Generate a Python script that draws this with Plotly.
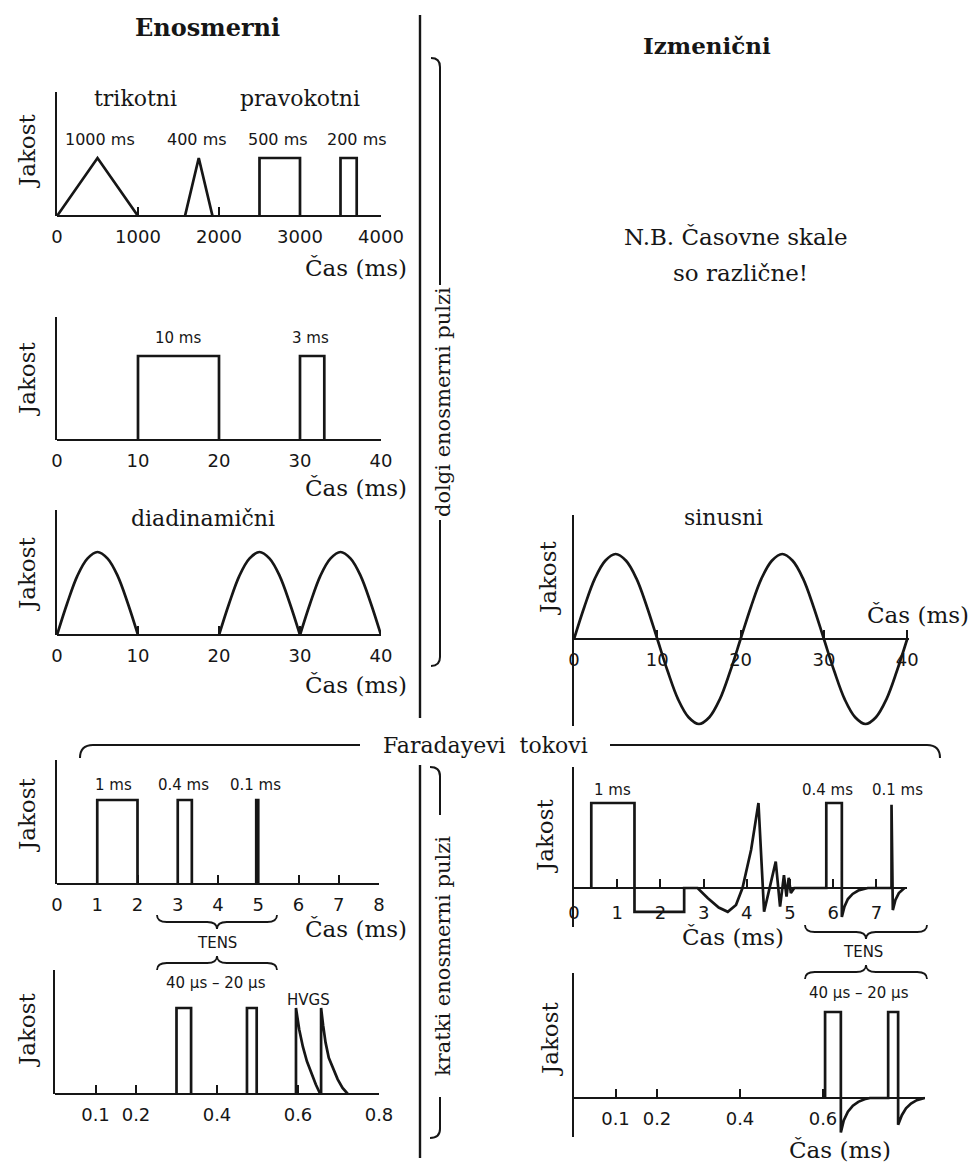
import plotly.graph_objects as go

W, H = 975, 1165
INK = "#161616"
SERIF = "DejaVu Serif, Liberation Serif, serif"
SANS = "DejaVu Sans, Liberation Sans, sans-serif"

# ---------------- data ----------------
# Panel 1: trikotni / pravokotni (time in ms)
P1_X = [0, 500, 1000, None, 1580, 1750, 1920, None, 2500, 2500, 3000, 3000, None, 3500, 3500, 3700, 3700]
P1_Y = [0, 1, 0, None, 0, 1, 0, None, 0, 1, 1, 0, None, 0, 1, 1, 0]
P1_TICKS = [0, 1000, 2000, 3000, 4000]

# Panel 2: 10 ms and 3 ms rectangular pulses
P2_X = [10, 10, 20, 20, None, 30, 30, 33, 33]
P2_Y = [0, 1, 1, 0, None, 0, 1, 1, 0]
P2_TICKS = [0, 10, 20, 30, 40]

# Panel 3: diadinamični (half-waves)
P3_X = [0, 1.25, 2.5, 3.75, 5, 6.25, 7.5, 8.75, 10, None,
        20, 21.25, 22.5, 23.75, 25, 26.25, 27.5, 28.75, 30, None,
        30, 31.25, 32.5, 33.75, 35, 36.25, 37.5, 38.75, 40]
P3_Y = [0, .38, .71, .92, 1, .92, .71, .38, 0, None,
        0, .38, .71, .92, 1, .92, .71, .38, 0, None,
        0, .38, .71, .92, 1, .92, .71, .38, 0]
P3_TICKS = [0, 10, 20, 30, 40]

# Panel 4: sinusni
P4_X = [0, 1.25, 2.5, 3.75, 5, 6.25, 7.5, 8.75, 10, 11.25, 12.5, 13.75, 15, 16.25, 17.5, 18.75,
        20, 21.25, 22.5, 23.75, 25, 26.25, 27.5, 28.75, 30, 31.25, 32.5, 33.75, 35, 36.25, 37.5, 38.75, 40]
P4_Y = [0, .38, .71, .92, 1, .92, .71, .38, 0, -.38, -.71, -.92, -1, -.92, -.71, -.38,
        0, .38, .71, .92, 1, .92, .71, .38, 0, -.38, -.71, -.92, -1, -.92, -.71, -.38, 0]
P4_TICKS = [0, 10, 20, 30, 40]

# Panel 5: short DC pulses (ms)
P5_X = [1, 1, 2, 2, None, 3, 3, 3.35, 3.35, None, 4.95, 4.95, 5.0, 5.0]
P5_Y = [0, 1, 1, 0, None, 0, 1, 1, 0, None, 0, 1, 1, 0]
P5_TICKS = [0, 1, 2, 3, 4, 5, 6, 7, 8]

# Panel 6: biphasic / alternating short pulses (ms)
P6_X = [0.4, 0.4, 1.4, 1.4, 2.55, 2.55, 2.86, 3.1, 3.35, 3.56, 3.75, 3.9, 4.1, 4.27, 4.4, 4.67, 4.77,
        4.86, 4.92, 4.97, 5.02, 5.1, 5.84, 5.84, 6.2, 6.2, 6.26, 6.34, 6.45, 6.58, 6.8,
        7.35, 7.35, 7.38, 7.44, 7.52, 7.65]
P6_Y = [0, 1, 1, -0.28, -0.28, 0, 0, -0.12, -0.23, -0.28, -0.2, 0, 0.45, 1.0, -0.28, 0.31, -0.22,
        0.15, -0.1, 0.12, -0.06, 0, 0, 1, 1, -0.34, -0.22, -0.13, -0.07, -0.03, 0,
        0, 0.98, -0.26, -0.14, -0.06, 0]
P6_TICKS = [0, 1, 2, 3, 4, 5, 6, 7]

# Panel 7: biphasic TENS (ms)
P7_X = [0.605, 0.605, 0.643, 0.643, 0.650, 0.660, 0.672, 0.685, 0.700, 0.713,
        0.757, 0.757, 0.781, 0.781, 0.790, 0.800, 0.812, 0.826, 0.845]
P7_Y = [0, 1, 1, -0.4, -0.26, -0.16, -0.09, -0.045, -0.015, 0,
        0, 1, 1, -0.31, -0.2, -0.12, -0.065, -0.025, 0]
P7_TICKS = [0.1, 0.2, 0.4, 0.6]

# Panel 8: TENS + HVGS (ms)
P8_X = [0.30, 0.30, 0.336, 0.336, None, 0.474, 0.474, 0.498, 0.498, None,
        0.595, 0.595, 0.603, 0.612, 0.622, 0.633, 0.644, 0.655, None,
        0.657, 0.657, 0.662, 0.668, 0.676, 0.686, 0.698, 0.710, 0.723]
P8_Y = [0, 1, 1, 0, None, 0, 1, 1, 0, None,
        0, 1, 0.75, 0.55, 0.38, 0.24, 0.11, 0, None,
        0, 1, 0.8, 0.6, 0.42, 0.3, 0.17, 0.07, 0]
P8_TICKS = [0.1, 0.2, 0.4, 0.6, 0.8]


def fmt(v):
    return ("%g" % v)


fig = go.Figure()


def add_panel(i, xs, ys, ticks, left, right, x0, xu, top, bot, y0, yu,
              shape="linear", standoff=4):
    sx = "x" if i == 1 else "x%d" % i
    sy = "y" if i == 1 else "y%d" % i
    fig.add_trace(go.Scatter(x=xs, y=ys, mode="lines", xaxis=sx, yaxis=sy,
                             line=dict(color=INK, width=2.7, shape=shape),
                             hoverinfo="skip", showlegend=False))
    xa = "xaxis" if i == 1 else "xaxis%d" % i
    ya = "yaxis" if i == 1 else "yaxis%d" % i
    fig.layout[xa] = dict(domain=[left / W, right / W],
                          range=[(left - x0) / xu, (right - x0) / xu],
                          anchor="free", position=1 - y0 / H,
                          showline=True, linecolor=INK, linewidth=2.3,
                          ticks="inside", ticklen=8, tickwidth=2, tickcolor=INK,
                          tickvals=ticks, ticktext=[fmt(t) for t in ticks],
                          tickfont=dict(family=SANS, size=18, color=INK),
                          ticklabelstandoff=standoff,
                          showgrid=False, zeroline=False, fixedrange=True,
                          automargin=False)
    fig.layout[ya] = dict(domain=[1 - bot / H, 1 - top / H],
                          range=[(y0 - bot) / yu, (y0 - top) / yu],
                          anchor=sx, showline=True, linecolor=INK, linewidth=2.3,
                          showticklabels=False, ticks="", showgrid=False,
                          zeroline=False, fixedrange=True, automargin=False)


# left column
add_panel(1, P1_X, P1_Y, P1_TICKS, 57, 381, 57, 0.081, 92, 216, 216, 58)
add_panel(2, P2_X, P2_Y, P2_TICKS, 57, 381, 57, 8.1, 317, 440, 440, 84)
add_panel(3, P3_X, P3_Y, P3_TICKS, 57, 381, 57, 8.1, 510, 635, 635, 83, shape="spline")
add_panel(5, P5_X, P5_Y, P5_TICKS, 57, 379, 57, 40.25, 760, 884, 884, 84)
add_panel(8, P8_X, P8_Y, P8_TICKS, 55, 379, 55, 405, 970, 1094, 1094, 86)
# right column
add_panel(4, P4_X, P4_Y, P4_TICKS, 574, 909, 574, 8.33, 515, 726, 639, 85, shape="spline")
add_panel(6, P6_X, P6_Y, P6_TICKS, 574, 907, 574, 43.2, 767, 927, 888, 85, standoff=8)
add_panel(7, P7_X, P7_Y, P7_TICKS, 574, 925, 574, 415, 973, 1137, 1098, 86)


def X(px):
    return px / W


def Y(py):
    return 1 - py / H


ann = []


def txt(s, x, y, size=22, family=SERIF, angle=0, xanchor="center", bold=False):
    if bold:
        s = "<b>%s</b>" % s
    ann.append(dict(text=s, x=X(x), y=Y(y), xref="paper", yref="paper",
                    xanchor=xanchor, yanchor="middle", showarrow=False,
                    textangle=angle, font=dict(family=family, size=size, color=INK)))


# titles
txt("Enosmerni", 207, 28, 24, bold=True)
txt("Izmenični", 707, 45, 23, bold=True)
txt("N.B. Časovne skale", 736, 237, 23)
txt("so različne!", 740, 273, 23)

# waveform names
txt("trikotni", 135, 98, 22)
txt("pravokotni", 300, 98, 22)
txt("diadinamični", 203, 518, 22)
txt("sinusni", 723, 517, 22)

# axis names
for yy in (151, 379, 574, 815, 1030):
    txt("Jakost", 27, yy, 23, angle=-90)
for xx, yy in ((548, 578), (545, 836), (550, 1039)):
    txt("Jakost", xx, yy, 23, angle=-90)
for yy in (268, 488, 685, 929):
    txt("Čas (ms)", 409, yy, 23, xanchor="right")
txt("Čas (ms)", 971, 615, 23, xanchor="right")
txt("Čas (ms)", 733, 937, 23)
txt("Čas (ms)", 840, 1150, 23)

# pulse labels
for s, xx in (("1000 ms", 100), ("400 ms", 197), ("500 ms", 278), ("200 ms", 357)):
    txt(s, xx, 139, 16, SANS)
txt("10 ms", 178, 338, 15, SANS)
txt("3 ms", 310, 338, 15, SANS)
for s, xx in (("1 ms", 113), ("0.4 ms", 183), ("0.1 ms", 255)):
    txt(s, xx, 785, 15, SANS)
for s, xx in (("1 ms", 612), ("0.4 ms", 827), ("0.1 ms", 897)):
    txt(s, xx, 790, 15, SANS)
txt("40 µs – 20 µs", 216, 983, 15, SANS)
txt("40 µs – 20 µs", 859, 993, 15, SANS)
txt("HVGS", 308, 1000, 15, SANS)
txt("TENS", 217, 943, 15, SANS)
txt("TENS", 863, 952, 15, SANS)

# group labels
txt("Faradayevi  tokovi", 485, 745, 22)
txt("dolgi enosmerni pulzi", 443, 402, 21, angle=-90)
txt("kratki enosmerni pulzi", 443, 956, 21, angle=-90)

fig.update_layout(annotations=ann)

# decorative lines / brackets
shapes = []


def line(x1, y1, x2, y2, w=2.2):
    shapes.append(dict(type="line", xref="paper", yref="paper",
                       x0=X(x1), y0=Y(y1), x1=X(x2), y1=Y(y2),
                       line=dict(color=INK, width=w)))


def path(points, w=2.0):
    d = ""
    for cmd, pts in points:
        d += cmd + " " + " ".join("%.5f,%.5f" % (X(a), Y(b)) for a, b in pts) + " "
    shapes.append(dict(type="path", xref="paper", yref="paper", path=d.strip(),
                       line=dict(color=INK, width=w)))


def hbrace(x1, x2, y, h):
    # h>0: tip points down (ends curl up); h<0: tip points up
    xm = (x1 + x2) / 2
    r = abs(h) * 1.4
    path([("M", [(x1, y - h)]), ("Q", [(x1, y), (x1 + r, y)]), ("L", [(xm - r, y)]),
          ("Q", [(xm, y), (xm, y + h)]), ("Q", [(xm, y), (xm + r, y)]),
          ("L", [(x2 - r, y)]), ("Q", [(x2, y), (x2, y - h)])], w=1.8)


# vertical divider
line(420, 15, 420, 718, 2.4)
line(420, 765, 420, 1158, 2.4)

# Faraday bracket
path([("M", [(80, 758)]), ("Q", [(80, 745), (93, 745)]), ("L", [(360, 745)])])
path([("M", [(610, 745)]), ("L", [(927, 745)]), ("Q", [(940, 745), (940, 758)])])

# dolgi enosmerni pulzi bracket
path([("M", [(431, 58)]), ("Q", [(440, 58), (440, 67)]), ("L", [(440, 285)])])
path([("M", [(440, 520)]), ("L", [(440, 657)]), ("Q", [(440, 666), (431, 666)])])

# kratki enosmerni pulzi bracket
path([("M", [(430, 767)]), ("Q", [(440, 767), (440, 776)]), ("L", [(440, 815)])])
path([("M", [(440, 1097)]), ("L", [(440, 1129)]), ("Q", [(440, 1138), (430, 1138)])])

# TENS braces
hbrace(157, 277, 922, 7)
hbrace(157, 277, 963, -7)
hbrace(805, 927, 932, 7)
hbrace(805, 927, 972, -7)

fig.update_layout(shapes=shapes, width=W, height=H,
                  margin=dict(l=0, r=0, t=0, b=0, pad=0, autoexpand=False),
                  paper_bgcolor="white", plot_bgcolor="rgba(0,0,0,0)",
                  showlegend=False)

fig.write_html("out.html")
